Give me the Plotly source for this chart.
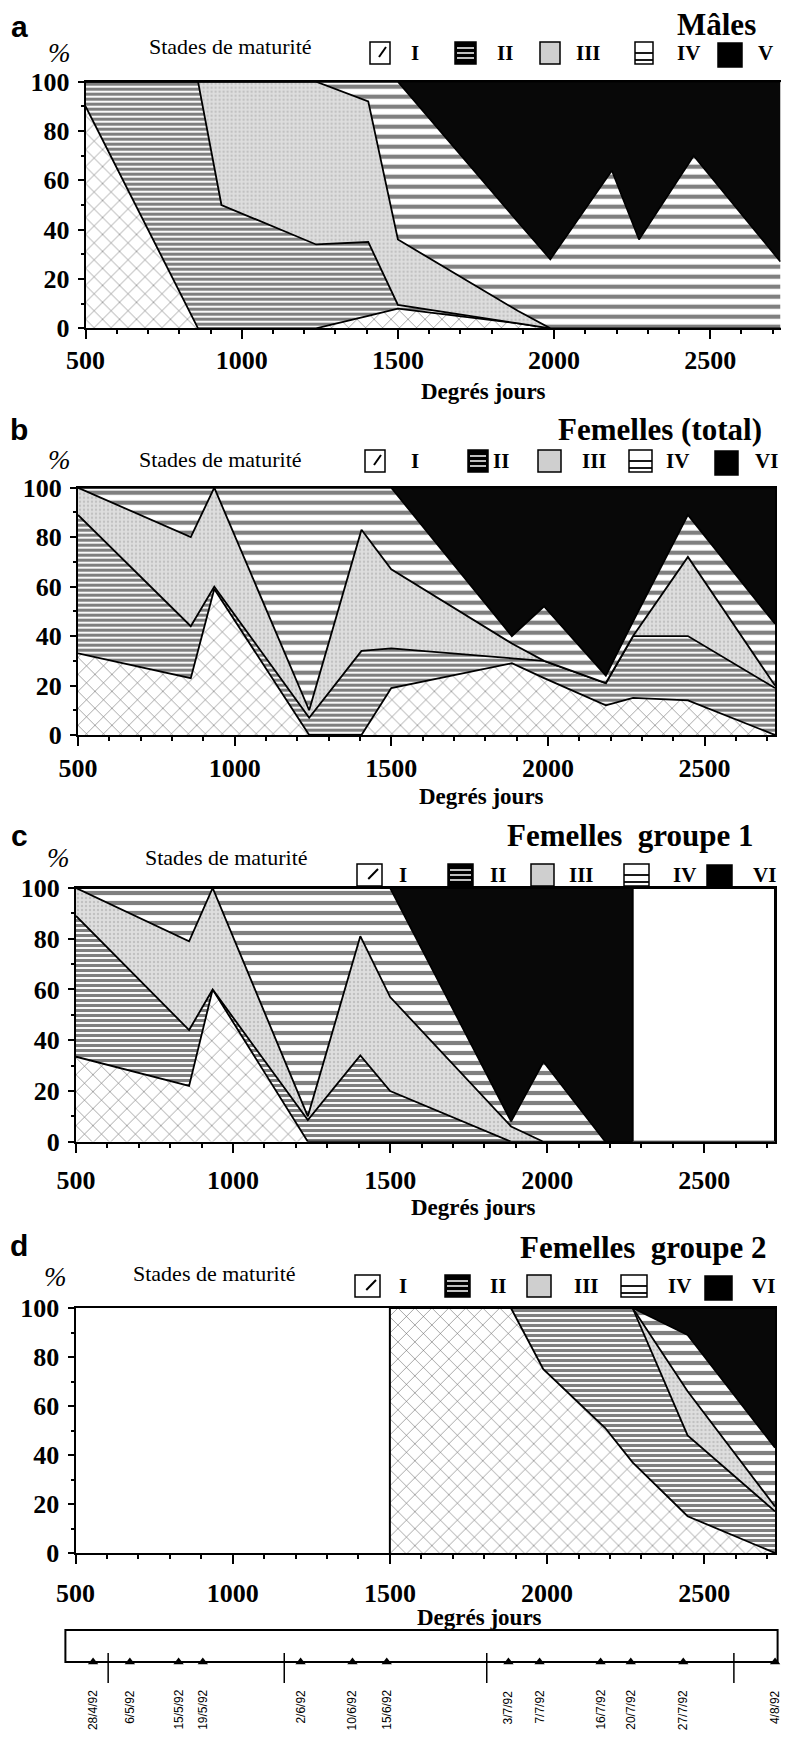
import plotly.graph_objects as go

# page is 789 x 1743; the html body keeps its default 8px margin, so the figure is
# made 16px smaller and every position below is given in page pixels.
PAGE_W, PAGE_H = 789, 1743
BODY = 8
W, H = PAGE_W - 2 * BODY, PAGE_H - 2 * BODY
X_MIN, X_MAX = 500, 2725

# ------------------------------------------------------------------ data
degres_jours = [500, 860, 935, 1238, 1405, 1500, 1885, 1988, 2185, 2272, 2447, 2725]

males_I = [90, 0, 0, 0, 5, 8, 2, 0, 0, 0, 0, 0]
males_II = [10, 100, 50, 34, 30, 1.5, 0, 0, 0, 0, 0, 0]
males_III = [0, 0, 50, 66, 57, 26.5, 5, 0, 0, 0, 0, 0]
males_IV = [0, 0, 0, 0, 8, 64, 36, 28, 64, 36, 70, 27]
males_V = [0, 0, 0, 0, 0, 0, 57, 72, 36, 64, 30, 73]

fem_I = [33, 23, 59, 0, 0, 19, 29, 23, 12, 15, 14, 0]
fem_II = [56, 21, 1, 7, 34, 16, 2, 7, 9, 25, 26, 19]
fem_III = [11, 36, 40, 3, 49, 32, 6, 0, 0, 0, 32, 1]
fem_IV = [0, 20, 0, 90, 17, 33, 3, 22, 3, 6, 17, 25]
fem_VI = [0, 0, 0, 0, 0, 0, 60, 48, 76, 54, 11, 55]

g1_degres_jours = [500, 860, 935, 1238, 1405, 1500, 1885, 1988, 2185, 2272]
g1_I = [33.5, 22, 60, 0, 0, 0, 0, 0, 0, 0]
g1_II = [55.5, 22, 0, 8.5, 34, 20, 0, 0, 0, 0]
g1_III = [11, 35, 40, 1.5, 47, 37, 6, 0, 0, 0]
g1_IV = [0, 21, 0, 90, 19, 43, 2, 31.5, 0, 0]
g1_VI = [0, 0, 0, 0, 0, 0, 92, 68.5, 100, 100]

g2_degres_jours = [1500, 1885, 1988, 2185, 2272, 2447, 2725]
g2_I = [100, 100, 75, 51, 37, 15, 0]
g2_II = [0, 0, 25, 49, 63, 33, 17]
g2_III = [0, 0, 0, 0, 0, 18, 2]
g2_IV = [0, 0, 0, 0, 0, 23, 24]
g2_VI = [0, 0, 0, 0, 0, 11, 57]

x_tick_vals = [500, 1000, 1500, 2000, 2500]
y_tick_vals = [0, 20, 40, 60, 80, 100]

sample_dates = ['28/4/92', '6/5/92', '15/5/92', '19/5/92', '2/6/92', '10/6/92', '15/6/92',
                '3/7/92', '7/7/92', '16/7/92', '20/7/92', '27/7/92', '4/8/92']
sample_dates_dj = [556, 673, 828, 905, 1216, 1381, 1490, 1877, 1976, 2170, 2266, 2433, 2725]
month_starts_dj = [604, 1164, 1808, 2594]
timeline_range = [468, 2733]

# ------------------------------------------------------------------ styles
SERIF = 'Liberation Serif, Times New Roman, serif'
NARROW = 'Liberation Sans Narrow, Arial Narrow, Liberation Sans, sans-serif'

STYLE = {
    'I': dict(fillcolor='white',
              fillpattern=dict(shape='x', fgcolor='black', bgcolor='white', size=12, solidity=0.08, fgopacity=0.7)),
    'II': dict(fillcolor='white',
               fillpattern=dict(shape='-', fgcolor='black', bgcolor='white', size=5, solidity=0.62)),
    'III': dict(fillcolor='#d9d9d9',
                fillpattern=dict(shape='.', fgcolor='#a3a3a3', bgcolor='#dedede', size=4, solidity=0.3)),
    'IV': dict(fillcolor='white',
               fillpattern=dict(shape='-', fgcolor='black', bgcolor='white', size=10, solidity=0.42)),
    'V': dict(fillcolor='#080808'),
    'VI': dict(fillcolor='#080808'),
}


def px_x(p):
    return (p - BODY) / W


def px_y(p):
    return 1 - (p - BODY) / H


panels = [
    dict(n=1, x=degres_jours,
         series=[('I', males_I), ('II', males_II), ('III', males_III), ('IV', males_IV), ('V', males_V)],
         left=85.6, right=780.5, top=81.7, bottom=328.3, standoff=-2,
         letter='a', letter_pos=(19, 27), title='Mâles', title_pos=(716, 25),
         pct=(60, 53), stades=(230, 47), leg_y=53, dj=(483, 391),
         legend=[('I', 370, 390, 415), ('II', 455, 476, 505), ('III', 540, 560, 588),
                 ('IV', 635, 653, 688), ('V', 718, 742, 765)]),
    dict(n=2, x=degres_jours,
         series=[('I', fem_I), ('II', fem_II), ('III', fem_III), ('IV', fem_IV), ('VI', fem_VI)],
         left=78, right=775, top=487.7, bottom=735, standoff=0,
         letter='b', letter_pos=(19, 429), title='Femelles (total)', title_pos=(660, 430),
         pct=(60, 460), stades=(220, 460), leg_y=461, dj=(481, 797),
         legend=[('I', 365, 385, 415), ('II', 468, 488, 501), ('III', 538, 561, 594),
                 ('IV', 629, 652, 677), ('VI', 715, 738, 766)]),
    dict(n=3, x=g1_degres_jours,
         series=[('I', g1_I), ('II', g1_II), ('III', g1_III), ('IV', g1_IV), ('VI', g1_VI)],
         left=76, right=775, top=888, bottom=1141.7, standoff=5,
         letter='c', letter_pos=(19, 835), title='Femelles\u00a0\u00a0groupe 1', title_pos=(630, 835),
         pct=(58, 858), stades=(226, 857), leg_y=875, dj=(473, 1207),
         legend=[('I', 357, 382, 403), ('II', 448, 473, 498), ('III', 531, 554, 581),
                 ('IV', 624, 649, 684), ('VI', 707, 732, 764)]),
    dict(n=4, x=g2_degres_jours,
         series=[('I', g2_I), ('II', g2_II), ('III', g2_III), ('IV', g2_IV), ('VI', g2_VI)],
         left=75.5, right=775, top=1308, bottom=1553, standoff=7,
         letter='d', letter_pos=(19, 1245), title='Femelles\u00a0\u00a0groupe 2', title_pos=(643, 1247),
         pct=(55, 1277), stades=(214, 1273), leg_y=1286, dj=(479, 1617),
         legend=[('I', 355, 380, 403), ('II', 445, 470, 498), ('III', 527, 551, 586),
                 ('IV', 621, 647, 679), ('VI', 705, 732, 763)]),
]

fig = go.Figure()
annotations = []
shapes = []
layout_axes = {}

for p in panels:
    n = p['n']
    xa, ya = f'x{n}', f'y{n}'
    for name, vals in p['series']:
        fig.add_trace(go.Scatter(
            x=p['x'], y=vals, stackgroup=f'g{n}', mode='lines',
            line=dict(color='black', width=1.8), xaxis=xa, yaxis=ya,
            hoverinfo='skip', showlegend=False, **STYLE[name]))

    layout_axes[f'xaxis{n}'] = dict(
        domain=[px_x(p['left']), px_x(p['right'])], range=[X_MIN, X_MAX], anchor=ya,
        tickmode='array', tickvals=x_tick_vals, ticks='outside', ticklen=9, tickwidth=2,
        tickcolor='black', showline=True, linewidth=2, linecolor='black', mirror=True,
        showgrid=False, zeroline=False, ticklabelstandoff=p['standoff'], automargin=False,
        minor=dict(tickmode='linear', tick0=500, dtick=100, ticks='outside', ticklen=4,
                   tickwidth=1.5, tickcolor='black', showgrid=False),
        tickfont=dict(family=SERIF, size=26, color='black', weight='bold'), fixedrange=True)
    layout_axes[f'yaxis{n}'] = dict(
        domain=[px_y(p['bottom']), px_y(p['top'])], range=[0, 100], anchor=xa,
        tickmode='array', tickvals=y_tick_vals, ticks='outside', ticklen=6, tickwidth=2,
        tickcolor='black', showline=True, linewidth=2, linecolor='black', mirror=True,
        showgrid=False, zeroline=False, ticklabelstandoff=3, automargin=False,
        minor=dict(tickmode='linear', tick0=0, dtick=10, ticks='outside', ticklen=3,
                   tickwidth=1.5, tickcolor='black', showgrid=False),
        tickfont=dict(family=SERIF, size=26, color='black', weight='bold'), fixedrange=True)

    # header texts
    lx, ly = p['letter_pos']
    annotations.append(dict(text=f"<b>{p['letter']}</b>", x=px_x(lx), y=px_y(ly), xref='paper', yref='paper',
                            showarrow=False, xanchor='center', yanchor='middle',
                            font=dict(family=NARROW, size=30, color='black')))
    tx, ty = p['title_pos']
    annotations.append(dict(text=f"<b>{p['title']}</b>", x=px_x(tx), y=px_y(ty), xref='paper', yref='paper',
                            showarrow=False, xanchor='center', yanchor='middle',
                            font=dict(family=SERIF, size=31, color='black')))
    annotations.append(dict(text='<i>%</i>', x=px_x(p['pct'][0]), y=px_y(p['pct'][1]), xref='paper',
                            yref='paper', showarrow=False, xanchor='center', yanchor='middle',
                            font=dict(family=SERIF, size=27, color='black')))
    annotations.append(dict(text='Stades de maturité', x=px_x(p['stades'][0]), y=px_y(p['stades'][1]),
                            xref='paper', yref='paper', showarrow=False, xanchor='center', yanchor='middle',
                            font=dict(family=SERIF, size=22, color='black')))
    annotations.append(dict(text='<b>Degrés jours</b>', x=px_x(p['dj'][0]), y=px_y(p['dj'][1]),
                            xref='paper', yref='paper', showarrow=False, xanchor='center', yanchor='middle',
                            font=dict(family=SERIF, size=23, color='black')))

    # legend swatches
    yc = p['leg_y']
    for name, x0, x1, lab_x in p['legend']:
        top, bot = yc - 11, yc + 11
        if name in ('V', 'VI'):
            top, bot = yc - 10, yc + 14
        base = dict(type='rect', xref='paper', yref='paper', x0=px_x(x0), x1=px_x(x1),
                    y0=px_y(bot), y1=px_y(top), line=dict(color='black', width=1.5), layer='above')
        if name == 'I':
            shapes.append(dict(base, fillcolor='white'))
            shapes.append(dict(type='line', xref='paper', yref='paper', x0=px_x(x0 + 0.45 * (x1 - x0)),
                               y0=px_y(yc + 4), x1=px_x(x1 - 4), y1=px_y(yc - 6),
                               line=dict(color='black', width=2), layer='above'))
        elif name == 'II':
            shapes.append(dict(base, fillcolor='black'))
            for dy in (-5, 0, 5):
                shapes.append(dict(type='line', xref='paper', yref='paper', x0=px_x(x0 + 2), x1=px_x(x1 - 2),
                                   y0=px_y(yc + dy), y1=px_y(yc + dy),
                                   line=dict(color='white', width=1.5), layer='above'))
        elif name == 'III':
            shapes.append(dict(base, fillcolor='#cfcfcf'))
        elif name == 'IV':
            shapes.append(dict(base, fillcolor='white'))
            for dy in (0, 7):
                shapes.append(dict(type='line', xref='paper', yref='paper', x0=px_x(x0), x1=px_x(x1),
                                   y0=px_y(yc + dy), y1=px_y(yc + dy),
                                   line=dict(color='black', width=1.8), layer='above'))
        else:
            shapes.append(dict(base, fillcolor='black'))
        annotations.append(dict(text=f'<b>{name}</b>', x=px_x(lab_x), y=px_y(yc), xref='paper', yref='paper',
                                showarrow=False, xanchor='center', yanchor='middle',
                                font=dict(family=SERIF, size=21, color='black')))

# panel c : empty framed area after the last sample
shapes.append(dict(type='rect', xref='x3', yref='y3', x0=g1_degres_jours[-1], x1=X_MAX, y0=0, y1=100,
                   fillcolor='white', line=dict(color='black', width=2), layer='above'))

# panel d : left edge of the stacked area
first_total = g2_I[0] + g2_II[0] + g2_III[0] + g2_IV[0] + g2_VI[0]
fig.add_trace(go.Scatter(x=[g2_degres_jours[0], g2_degres_jours[0]], y=[0, first_total], mode='lines',
                         line=dict(color='black', width=2), xaxis='x4', yaxis='y4',
                         hoverinfo='skip', showlegend=False))

# ------------------------------------------------------------------ timeline
tl_left, tl_right = 65.4, 777.6
layout_axes['xaxis5'] = dict(domain=[px_x(tl_left), px_x(tl_right)], range=timeline_range, visible=False,
                             anchor='y5', fixedrange=True, automargin=False)
layout_axes['yaxis5'] = dict(domain=[px_y(1695), px_y(1625)], range=[-3.3, 3.7], visible=False,
                             anchor='x5', fixedrange=True, automargin=False)
shapes.append(dict(type='rect', xref='paper', yref='paper', x0=px_x(tl_left), x1=px_x(tl_right),
                   y0=px_y(1662), y1=px_y(1630), line=dict(color='black', width=2), fillcolor='rgba(0,0,0,0)'))

mx, my = [], []
for m in month_starts_dj:
    mx += [m, m, None]
    my += [0.9, -2.1, None]
fig.add_trace(go.Scatter(x=mx, y=my, mode='lines', line=dict(color='black', width=1.5),
                         xaxis='x5', yaxis='y5', hoverinfo='skip', showlegend=False))
fig.add_trace(go.Scatter(x=sample_dates_dj, y=[0] * len(sample_dates_dj), mode='markers',
                         marker=dict(symbol='triangle-up', size=9, color='black'),
                         xaxis='x5', yaxis='y5', cliponaxis=False, hoverinfo='skip', showlegend=False))
for d, lab in zip(sample_dates_dj, sample_dates):
    annotations.append(dict(text=lab, x=d, y=px_y(1688), xref='x5', yref='paper', showarrow=False,
                            textangle=-90, xanchor='center', yanchor='top',
                            font=dict(family=NARROW, size=12, color='black')))

fig.update_layout(
    width=W, height=H, margin=dict(l=0, r=0, t=0, b=0, pad=0, autoexpand=False),
    paper_bgcolor='white', plot_bgcolor='white', showlegend=False,
    annotations=annotations, shapes=shapes, **layout_axes)

fig.write_html('out.html')
